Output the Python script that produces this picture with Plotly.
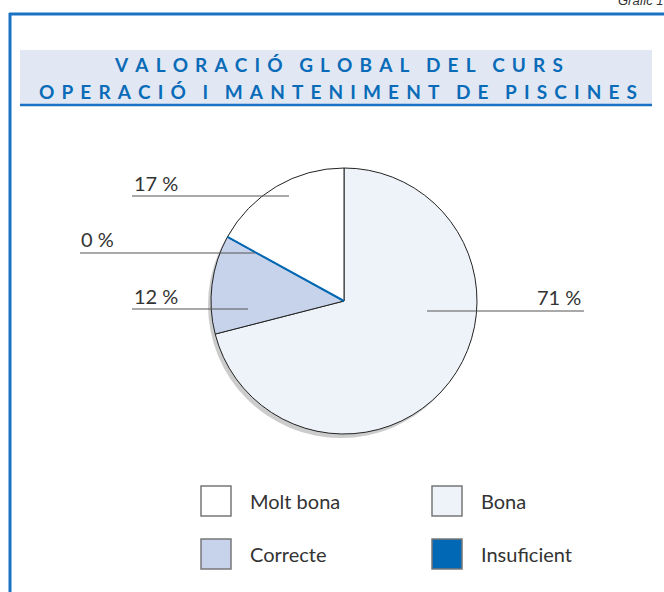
import math
import plotly.graph_objects as go

# ---- data ----
categories = ["Molt bona", "Bona", "Correcte", "Insuficient"]
values = [17, 71, 12, 0]
colors = ["#ffffff", "#eef2f9", "#c6d3ea", "#0068b4"]
title_lines = ["VALORACIÓ GLOBAL DEL CURS", "OPERACIÓ I MANTENIMENT DE PISCINES"]
corner_text = "Gràfic 1"

W, H = 664, 592
BLUE = "#1a72c4"
TXT = "#333333"
FONT = "Lato"

def px(x):
    return x / W

def py(y):
    return 1 - y / H

def spaced(s, lsep="\u2005\u200a\u200a", wsep="\u2003\u2009"):
    words = s.split(" ")
    return wsep.join(lsep.join(list(w)) for w in words)

# pie geometry (pixels)
cx, cy, r = 344, 301, 133

# order slices clockwise starting at 12 o'clock: Bona, Correcte, Insuficient, Molt bona
order = [1, 2, 3, 0]
pie_labels = [categories[i] for i in order]
pie_vals = [values[i] for i in order]
pie_cols = [colors[i] for i in order]

fig = go.Figure()
fig.add_trace(go.Pie(
    labels=pie_labels, values=pie_vals, sort=False, direction="clockwise", rotation=0,
    marker=dict(colors=pie_cols, line=dict(color="#222222", width=1)),
    textinfo="none", hoverinfo="label+percent", showlegend=False,
    domain=dict(x=[px(cx - r), px(cx + r)], y=[py(cy + r), py(cy - r)]),
))

shapes = []
annotations = []

# frame
shapes.append(dict(type="line", xref="paper", yref="paper", x0=px(10), x1=px(10), y0=py(13), y1=py(600),
                   line=dict(color=BLUE, width=3)))
shapes.append(dict(type="line", xref="paper", yref="paper", x0=px(9), x1=px(670), y0=py(14), y1=py(14),
                   line=dict(color=BLUE, width=3)))
# title background and underline
shapes.append(dict(type="rect", xref="paper", yref="paper", x0=px(20), x1=px(652), y0=py(50), y1=py(105),
                   fillcolor="#e2e8f3", line=dict(width=0), layer="below"))
shapes.append(dict(type="line", xref="paper", yref="paper", x0=px(20), x1=px(652), y0=py(105), y1=py(105),
                   line=dict(color=BLUE, width=2.5)))
for i, t in enumerate(title_lines):
    annotations.append(dict(text="<b>" + spaced(t) + "</b>", xref="paper", yref="paper",
                            x=px(338), y=py(65 + 27 * i), xanchor="center", yanchor="middle",
                            showarrow=False, font=dict(family=FONT, size=19, color="#0a6cb8")))

annotations.append(dict(text="<i>" + corner_text + "</i>", xref="paper", yref="paper",
                        x=px(666), y=py(1), xanchor="right", yanchor="middle", showarrow=False,
                        font=dict(family="Liberation Sans", size=13, color=TXT)))

# pie shadow
shapes.append(dict(type="circle", xref="paper", yref="paper", x0=px(cx - r - 3), x1=px(cx + r - 3),
                   y0=py(cy + r + 4), y1=py(cy - r + 4), fillcolor="#cccccc", line=dict(width=0),
                   layer="below"))

# zero-value slice drawn as a radial line at its angle (clockwise from 12 o'clock)
total = sum(pie_vals)
cum = 0
for lab, v, c in zip(pie_labels, pie_vals, pie_cols):
    if v == 0:
        ang = 2 * math.pi * cum / total
        shapes.append(dict(type="line", xref="paper", yref="paper",
                           x0=px(cx), y0=py(cy),
                           x1=px(cx + r * math.sin(ang)), y1=py(cy - r * math.cos(ang)),
                           line=dict(color=c, width=2)))
    cum += v

# percentage labels with leader lines (layout positions)
label_pos = {
    "Molt bona": dict(lx0=132, lx1=289, ly=196, tx=132, ty=183, anchor="left"),
    "Insuficient": dict(lx0=80, lx1=255, ly=253, tx=79, ty=239, anchor="left"),
    "Correcte": dict(lx0=132, lx1=248, ly=309, tx=132, ty=296, anchor="left"),
    "Bona": dict(lx0=427, lx1=584, ly=311, tx=583, ty=297, anchor="right"),
}
for cat, v in zip(categories, values):
    p = label_pos[cat]
    shapes.append(dict(type="line", xref="paper", yref="paper", x0=px(p["lx0"]), x1=px(p["lx1"]),
                       y0=py(p["ly"]), y1=py(p["ly"]), line=dict(color="#555555", width=1.2)))
    annotations.append(dict(text=f"{v} %", xref="paper", yref="paper", x=px(p["tx"]), y=py(p["ty"]),
                            xanchor=p["anchor"], yanchor="middle", showarrow=False,
                            font=dict(family=FONT, size=20, color=TXT)))

# legend (2 x 2 grid)
leg_x = [201, 432]
leg_y = [486, 539]
for i, (cat, col) in enumerate(zip(categories, colors)):
    x0 = leg_x[i % 2]
    y0 = leg_y[i // 2]
    shapes.append(dict(type="rect", xref="paper", yref="paper", x0=px(x0), x1=px(x0 + 30),
                       y0=py(y0 + 30), y1=py(y0), fillcolor=col, line=dict(color="#777777", width=1.5)))
    annotations.append(dict(text=cat, xref="paper", yref="paper", x=px(x0 + 47), y=py(y0 + 15),
                            xanchor="left", yanchor="middle", showarrow=False,
                            font=dict(family=FONT, size=20, color=TXT)))

fig.update_layout(
    width=W, height=H, margin=dict(l=0, r=0, t=0, b=0),
    paper_bgcolor="white", plot_bgcolor="white",
    shapes=shapes, annotations=annotations, showlegend=False,
)
fig.write_html("out.html")
